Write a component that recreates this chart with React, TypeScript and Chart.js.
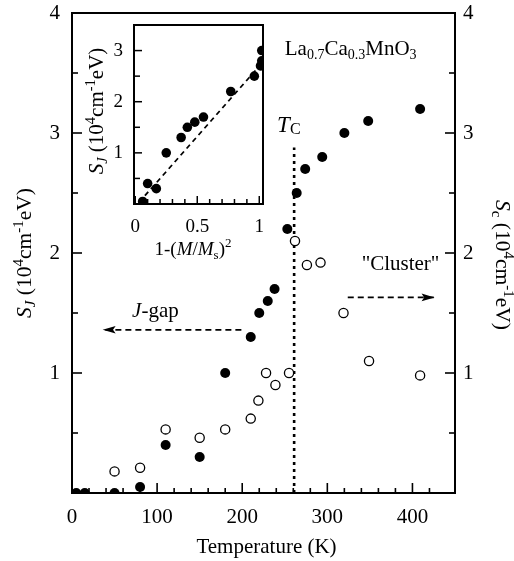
import React, { useEffect, useRef } from "react";
import { Chart, registerables } from "chart.js";

Chart.register(...registerables);

const FONT = "'Liberation Serif', 'Times New Roman', Times, serif";

// ---- main plot data ----
const filledT = [5, 15, 50, 80, 110, 150, 180, 210, 220, 230, 238, 253, 264, 274, 294, 320, 348, 409];
const filledS = [0, 0, 0, 0.05, 0.4, 0.3, 1.0, 1.3, 1.5, 1.6, 1.7, 2.2, 2.5, 2.7, 2.8, 3.0, 3.1, 3.2];
const openT = [50, 80, 110, 150, 180, 210, 219, 228, 239, 255, 262, 276, 292, 319, 349, 409];
const openS = [0.18, 0.21, 0.53, 0.46, 0.53, 0.62, 0.77, 1.0, 0.9, 1.0, 2.1, 1.9, 1.92, 1.5, 1.1, 0.98];
const tcLineX = [261, 261];
const tcLineY = [0, 2.88];
const jgapArrowX = [199, 36];
const jgapArrowY = 1.36;
const clusterArrowX = [324, 426];
const clusterArrowY = 1.63;
const xTickLabels = [0, 100, 200, 300, 400];
const yTickLabels = [1, 2, 3, 4];

// ---- inset data ----
const insetX = [0.06, 0.1, 0.17, 0.25, 0.37, 0.42, 0.48, 0.55, 0.77, 0.96, 1.02, 1.02, 1.01];
const insetY = [0.05, 0.4, 0.3, 1.0, 1.3, 1.5, 1.6, 1.7, 2.2, 2.5, 3.0, 2.8, 2.7];
const fitX = [0.03, 1.02];
const fitY = [0.03, 2.75];
const insetXTickLabels = [0, 0.5, 1];
const insetYTickLabels = [1, 2, 3];

type Seg = { t: string; size: number; italic?: boolean; dy?: number };

function segFont(s: Seg) {
  return `${s.italic ? "italic " : ""}${s.size}px ${FONT}`;
}

function drawRich(
  ctx: CanvasRenderingContext2D,
  segs: Seg[],
  x: number,
  y: number,
  align: "left" | "center",
  rot = 0
) {
  ctx.save();
  ctx.translate(x, y);
  ctx.rotate(rot);
  ctx.textAlign = "left";
  ctx.textBaseline = "alphabetic";
  ctx.fillStyle = "#000";
  let w = 0;
  for (const s of segs) {
    ctx.font = segFont(s);
    w += ctx.measureText(s.t).width;
  }
  let cx = align === "center" ? -w / 2 : 0;
  for (const s of segs) {
    ctx.font = segFont(s);
    ctx.fillText(s.t, cx, s.dy || 0);
    cx += ctx.measureText(s.t).width;
  }
  ctx.restore();
}

function line(ctx: CanvasRenderingContext2D, x1: number, y1: number, x2: number, y2: number) {
  ctx.beginPath();
  ctx.moveTo(x1, y1);
  ctx.lineTo(x2, y2);
  ctx.stroke();
}

function arrowHead(ctx: CanvasRenderingContext2D, tipX: number, tipY: number, dir: number) {
  const L = 13;
  const H = 3.8;
  ctx.beginPath();
  ctx.moveTo(tipX, tipY);
  ctx.lineTo(tipX - dir * L, tipY - H);
  ctx.lineTo(tipX - dir * L * 0.8, tipY);
  ctx.lineTo(tipX - dir * L, tipY + H);
  ctx.closePath();
  ctx.fill();
}

const titleJ = (size: number, sub: number): Seg[] => [
  { t: "S", size, italic: true },
  { t: "J", size: sub, italic: true, dy: 4 },
  { t: " (10", size },
  { t: "4", size: sub, dy: -8 },
  { t: "cm", size },
  { t: "-1", size: sub, dy: -8 },
  { t: "eV)", size },
];

const sizeVertical = (w: number) => (s: any) => {
  s.width = w;
  s.paddingTop = 0;
  s.paddingBottom = 0;
};
const sizeHorizontal = (h: number) => (s: any) => {
  s.height = h;
  s.paddingLeft = 0;
  s.paddingRight = 0;
};

const mainPlugin = {
  id: "mainDecor",
  afterDraw(chart: any) {
    const { ctx, chartArea: a, scales } = chart;
    const xs = scales.x;
    const ys = scales.y;
    ctx.save();
    ctx.strokeStyle = "#000";
    ctx.fillStyle = "#000";
    ctx.lineWidth = 2;
    ctx.strokeRect(a.left, a.top, a.right - a.left, a.bottom - a.top);
    ctx.lineWidth = 1.6;
    xs.ticks.forEach((t: any) => {
      const v = t.value;
      if (v <= xs.min || v >= xs.max) return;
      const px = xs.getPixelForValue(v);
      const len = v % 100 === 0 ? 10 : 5;
      line(ctx, px, a.bottom, px, a.bottom - len);
    });
    ys.ticks.forEach((t: any) => {
      const v = t.value;
      if (v <= ys.min || v >= ys.max) return;
      const py = ys.getPixelForValue(v);
      const len = Number.isInteger(v) ? 10 : 6;
      line(ctx, a.left, py, a.left + len, py);
      line(ctx, a.right, py, a.right - len, py);
    });
    arrowHead(ctx, xs.getPixelForValue(jgapArrowX[1]), ys.getPixelForValue(jgapArrowY), -1);
    arrowHead(ctx, xs.getPixelForValue(clusterArrowX[1]), ys.getPixelForValue(clusterArrowY), 1);

    drawRich(
      ctx,
      [
        { t: "La", size: 21 },
        { t: "0.7", size: 14, dy: 4 },
        { t: "Ca", size: 21 },
        { t: "0.3", size: 14, dy: 4 },
        { t: "MnO", size: 21 },
        { t: "3", size: 14, dy: 4 },
      ],
      xs.getPixelForValue(250),
      ys.getPixelForValue(3.65),
      "left"
    );
    drawRich(
      ctx,
      [
        { t: "T", size: 23, italic: true },
        { t: "C", size: 16, dy: 2 },
      ],
      xs.getPixelForValue(241),
      ys.getPixelForValue(3.01),
      "left"
    );
    drawRich(
      ctx,
      [
        { t: "J", size: 21, italic: true },
        { t: "-gap", size: 21 },
      ],
      xs.getPixelForValue(98),
      ys.getPixelForValue(1.47),
      "center"
    );
    drawRich(ctx, [{ t: '"Cluster"', size: 21 }], xs.getPixelForValue(386), ys.getPixelForValue(1.86), "center");

    drawRich(ctx, [{ t: "Temperature (K)", size: 21 }], (a.left + a.right) / 2 + 3, 553, "center");
    drawRich(ctx, titleJ(21.5, 15), 24 + 7, (a.top + a.bottom) / 2, "center", -Math.PI / 2);
    drawRich(
      ctx,
      [
        { t: "S", size: 21.5, italic: true },
        { t: "c", size: 15, dy: 4 },
        { t: " (10", size: 21.5 },
        { t: "4", size: 15, dy: -8 },
        { t: "cm", size: 21.5 },
        { t: "-1", size: 15, dy: -8 },
        { t: "eV)", size: 21.5 },
      ],
      503 - 7,
      265,
      "center",
      Math.PI / 2
    );
    ctx.restore();
  },
};

const insetPlugin = {
  id: "insetDecor",
  afterDraw(chart: any) {
    const { ctx, chartArea: a, scales } = chart;
    const xs = scales.x;
    const ys = scales.y;
    ctx.save();
    ctx.strokeStyle = "#000";
    ctx.lineWidth = 2;
    ctx.strokeRect(a.left, a.top, a.right - a.left, a.bottom - a.top);
    ctx.lineWidth = 1.5;
    xs.ticks.forEach((t: any) => {
      const v = t.value;
      if (v <= xs.min || v >= xs.max - 0.005) return;
      const px = xs.getPixelForValue(v);
      const len = Math.abs(v * 2 - Math.round(v * 2)) < 1e-6 ? 8 : 5;
      line(ctx, px, a.bottom, px, a.bottom - len);
    });
    ys.ticks.forEach((t: any) => {
      const v = t.value;
      if (v <= ys.min || v >= ys.max) return;
      const py = ys.getPixelForValue(v);
      const len = Number.isInteger(v) ? 8 : 6;
      line(ctx, a.left, py, a.left + len, py);
    });
    drawRich(
      ctx,
      [
        { t: "1-(", size: 19 },
        { t: "M", size: 19, italic: true },
        { t: "/", size: 19 },
        { t: "M", size: 19, italic: true },
        { t: "s", size: 13, dy: 4 },
        { t: ")", size: 19 },
        { t: "2", size: 13, dy: -8 },
      ],
      113,
      237,
      "center"
    );
    drawRich(ctx, titleJ(21, 14.5), 16 + 7, 93, "center", -Math.PI / 2);
    ctx.restore();
  },
};

export default function App() {
  const mainRef = useRef<HTMLCanvasElement>(null);
  const insetRef = useRef<HTMLCanvasElement>(null);

  useEffect(() => {
    const tickFont = { family: FONT, size: 21 };
    const main = new Chart(mainRef.current as HTMLCanvasElement, {
      type: "scatter",
      data: {
        datasets: [
          {
            label: "S_J",
            data: filledT.map((x, i) => ({ x, y: filledS[i] })),
            pointRadius: 5,
            pointBackgroundColor: "#000",
            pointBorderColor: "#000",
            pointBorderWidth: 0,
            showLine: false,
          },
          {
            label: "S_c",
            data: openT.map((x, i) => ({ x, y: openS[i] })),
            pointRadius: 4.6,
            pointBackgroundColor: "#fff",
            pointBorderColor: "#000",
            pointBorderWidth: 1.3,
            showLine: false,
          },
          {
            label: "Tc",
            data: tcLineX.map((x, i) => ({ x, y: tcLineY[i] })),
            showLine: true,
            borderColor: "#000",
            borderWidth: 2.6,
            borderDash: [3, 4],
            pointRadius: 0,
          },
          {
            label: "J-gap",
            data: jgapArrowX.map((x) => ({ x, y: jgapArrowY })),
            showLine: true,
            borderColor: "#000",
            borderWidth: 1.8,
            borderDash: [6, 4],
            pointRadius: 0,
          },
          {
            label: "Cluster",
            data: clusterArrowX.map((x) => ({ x, y: clusterArrowY })),
            showLine: true,
            borderColor: "#000",
            borderWidth: 1.8,
            borderDash: [6, 4],
            pointRadius: 0,
          },
        ],
      },
      options: {
        responsive: false,
        animation: false,
        devicePixelRatio: 1,
        events: [],
        layout: { padding: { top: 13, left: 0, right: 0, bottom: 0 } },
        plugins: { legend: { display: false }, tooltip: { enabled: false } },
        scales: {
          x: {
            type: "linear",
            position: "bottom",
            min: 0,
            max: 450,
            grid: { display: false, drawTicks: false },
            border: { display: false },
            ticks: {
              stepSize: 20,
              autoSkip: false,
              maxRotation: 0,
              padding: 12,
              color: "#000",
              font: tickFont,
              callback: (v: any) => (xTickLabels.includes(Number(v)) ? String(v) : ""),
            },
            afterFit: sizeHorizontal(68),
          },
          y: {
            type: "linear",
            position: "left",
            min: 0,
            max: 4,
            grid: { display: false, drawTicks: false },
            border: { display: false },
            ticks: {
              stepSize: 0.5,
              autoSkip: false,
              padding: 12,
              color: "#000",
              font: tickFont,
              callback: (v: any) => (yTickLabels.includes(Number(v)) ? String(v) : ""),
            },
            afterFit: sizeVertical(72),
          },
          y2: {
            type: "linear",
            position: "right",
            display: true,
            min: 0,
            max: 4,
            grid: { display: false, drawTicks: false },
            border: { display: false },
            ticks: {
              stepSize: 0.5,
              autoSkip: false,
              padding: 8,
              color: "#000",
              font: tickFont,
              callback: (v: any) => (yTickLabels.includes(Number(v)) ? String(v) : ""),
            },
            afterFit: sizeVertical(59),
          },
        },
      } as any,
      plugins: [mainPlugin],
    });

    const insetFont = { family: FONT, size: 19 };
    const inset = new Chart(insetRef.current as HTMLCanvasElement, {
      type: "scatter",
      data: {
        datasets: [
          {
            label: "inset",
            data: insetX.map((x, i) => ({ x, y: insetY[i] })),
            pointRadius: 4.8,
            pointBackgroundColor: "#000",
            pointBorderColor: "#000",
            pointBorderWidth: 0,
            showLine: false,
          },
          {
            label: "fit",
            data: fitX.map((x, i) => ({ x, y: fitY[i] })),
            showLine: true,
            borderColor: "#000",
            borderWidth: 1.8,
            borderDash: [5, 4],
            pointRadius: 0,
          },
        ],
      },
      options: {
        responsive: false,
        animation: false,
        devicePixelRatio: 1,
        events: [],
        layout: { padding: { top: 7, right: 7, left: 0, bottom: 0 } },
        plugins: { legend: { display: false }, tooltip: { enabled: false } },
        scales: {
          x: {
            type: "linear",
            position: "bottom",
            min: -0.01,
            max: 1.03,
            grid: { display: false, drawTicks: false },
            border: { display: false },
            ticks: {
              stepSize: 0.1,
              includeBounds: false,
              autoSkip: false,
              maxRotation: 0,
              padding: 12,
              color: "#000",
              font: insetFont,
              callback: (v: any) =>
                insetXTickLabels.some((l) => Math.abs(l - Number(v)) < 1e-6) ? String(Number(v)) : "",
            },
            afterFit: sizeHorizontal(62),
          },
          y: {
            type: "linear",
            position: "left",
            min: 0,
            max: 3.5,
            grid: { display: false, drawTicks: false },
            border: { display: false },
            ticks: {
              stepSize: 0.5,
              autoSkip: false,
              padding: 11,
              color: "#000",
              font: insetFont,
              callback: (v: any) => (insetYTickLabels.includes(Number(v)) ? String(v) : ""),
            },
            afterFit: sizeVertical(54),
          },
        },
      } as any,
      plugins: [insetPlugin],
    });

    return () => {
      main.destroy();
      inset.destroy();
    };
  }, []);

  return (
    <div style={{ position: "absolute", left: 0, top: 0, width: 514, height: 561, background: "#fff" }}>
      <canvas
        ref={mainRef}
        width={514}
        height={561}
        style={{ position: "absolute", left: 0, top: 0, width: 514, height: 561 }}
      />
      <canvas
        ref={insetRef}
        width={190}
        height={248}
        style={{ position: "absolute", left: 80, top: 18, width: 190, height: 248 }}
      />
    </div>
  );
}
